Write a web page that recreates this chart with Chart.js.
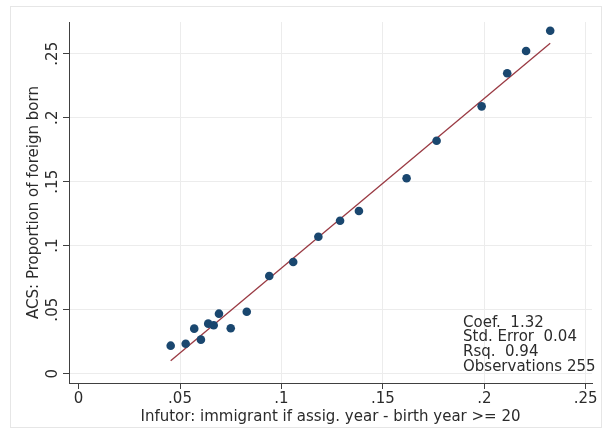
<!DOCTYPE html>
<html>
<head>
<meta charset="utf-8">
<script src="https://cdn.jsdelivr.net/npm/chart.js@4.4.1/dist/chart.umd.min.js"></script>
<style>
  html, body { margin: 0; padding: 0; background: #ffffff; }
  #wrap { width: 607px; height: 439px; position: relative; }
</style>
</head>
<body>
<div id="wrap"><canvas id="c" width="607" height="439"></canvas></div>
<script>
// ---- data ----
const infutorShare = [0.0454, 0.0528, 0.0570, 0.0603, 0.0639, 0.0666, 0.0692, 0.0750, 0.0829,
                      0.0940, 0.1058, 0.1182, 0.1289, 0.1382, 0.1617,
                      0.1765, 0.1987, 0.2113, 0.2206, 0.2325];
const acsShare     = [0.0219, 0.0234, 0.0352, 0.0266, 0.0391, 0.0378, 0.0469, 0.0355, 0.0484,
                      0.0763, 0.0873, 0.1070, 0.1195, 0.1271, 0.1527,
                      0.1820, 0.2089, 0.2347, 0.2521, 0.2680];
const fitX = [0.0454, 0.2325];
const fitY = [0.0102, 0.2581];
const xTickValues = [0, 0.05, 0.10, 0.15, 0.20, 0.25];
const xTickLabels = ['0', '.05', '.1', '.15', '.2', '.25'];
const yTickValues = [0, 0.05, 0.10, 0.15, 0.20, 0.25];
const yTickLabels = ['0', '.05', '.1', '.15', '.2', '.25'];
const xTitle = 'Infutor: immigrant if assig. year - birth year >= 20';
const yTitle = 'ACS: Proportion of foreign born';
const statLines = ['Coef.  1.32', 'Std. Error  0.04', 'Rsq.  0.94', 'Observations 255'];

const FONT = '"DejaVu Sans", "Liberation Sans", sans-serif';
const AXIS = '#404040';
const GRID = '#ececec';

const pointData = infutorShare.map((x, i) => ({ x: x, y: acsShare[i] }));
const fitData = fitX.map((x, i) => ({ x: x, y: fitY[i] }));

const textPlugin = {
  id: 'stataText',
  beforeDraw(chart) {
    const ctx = chart.ctx;
    ctx.save();
    ctx.fillStyle = '#ffffff';
    ctx.fillRect(0, 0, chart.width, chart.height);
    ctx.strokeStyle = '#e6e6e6';
    ctx.lineWidth = 1;
    ctx.strokeRect(10.5, 6.5, 591, 421);
    ctx.restore();
  },
  afterDraw(chart) {
    const ctx = chart.ctx;
    const xs = chart.scales.x, ys = chart.scales.y;
    const area = chart.chartArea;
    ctx.save();
    ctx.fillStyle = '#2b2b2b';
    ctx.font = '15px ' + FONT;
    // x tick labels
    ctx.textAlign = 'center';
    ctx.textBaseline = 'alphabetic';
    xs.ticks.forEach((t, i) => {
      ctx.fillText(xTickLabels[i], xs.getPixelForValue(t.value), 403);
    });
    // y tick labels (rotated)
    ys.ticks.forEach((t, i) => {
      ctx.save();
      ctx.translate(57, ys.getPixelForValue(t.value));
      ctx.rotate(-Math.PI / 2);
      ctx.textAlign = 'center';
      ctx.fillText(yTickLabels[i], 0, 0);
      ctx.restore();
    });
    // axis titles
    ctx.fillText(xTitle, (area.left + area.right) / 2, 421);
    ctx.save();
    ctx.translate(38, (area.top + area.bottom) / 2);
    ctx.rotate(-Math.PI / 2);
    ctx.textAlign = 'center';
    ctx.fillText(yTitle, 0, 0);
    ctx.restore();
    // statistics box
    ctx.textAlign = 'left';
    const base = [326.5, 341.3, 356, 370.7];
    statLines.forEach((s, i) => ctx.fillText(s, 463, base[i]));
    ctx.restore();
  }
};

new Chart(document.getElementById('c'), {
  type: 'scatter',
  data: {
    datasets: [
      {
        label: 'fit',
        type: 'line',
        data: fitData,
        borderColor: '#9a3a43',
        borderWidth: 1.3,
        pointRadius: 0,
        fill: false,
        tension: 0,
        order: 2
      },
      {
        label: 'points',
        data: pointData,
        backgroundColor: '#1a476f',
        borderColor: '#1a476f',
        borderWidth: 0,
        pointRadius: 4.3,
        order: 1
      }
    ]
  },
  options: {
    responsive: false,
    animation: false,
    devicePixelRatio: 1,
    layout: { padding: { left: 0, right: 15, top: 22, bottom: 0 } },
    plugins: { legend: { display: false }, tooltip: { enabled: false } },
    scales: {
      x: {
        type: 'linear',
        min: -0.00473,
        max: 0.2531,
        afterBuildTicks: s => { s.ticks = xTickValues.map(v => ({ value: v })); },
        afterFit: s => { s.height = 56; },
        ticks: { display: false },
        grid: {
          color: ctx => (ctx.tick && ctx.tick.value === 0 ? 'rgba(0,0,0,0)' : GRID),
          tickColor: AXIS,
          tickLength: 6,
          lineWidth: 1
        },
        border: { display: true, color: AXIS, width: 1 }
      },
      y: {
        type: 'linear',
        min: -0.00727,
        max: 0.2748,
        afterBuildTicks: s => { s.ticks = yTickValues.map(v => ({ value: v })); },
        afterFit: s => { s.width = 69; },
        ticks: { display: false },
        grid: {
          color: GRID,
          tickColor: AXIS,
          tickLength: 6,
          lineWidth: 1
        },
        border: { display: true, color: AXIS, width: 1 }
      }
    }
  },
  plugins: [textPlugin]
});
</script>
</body>
</html>
